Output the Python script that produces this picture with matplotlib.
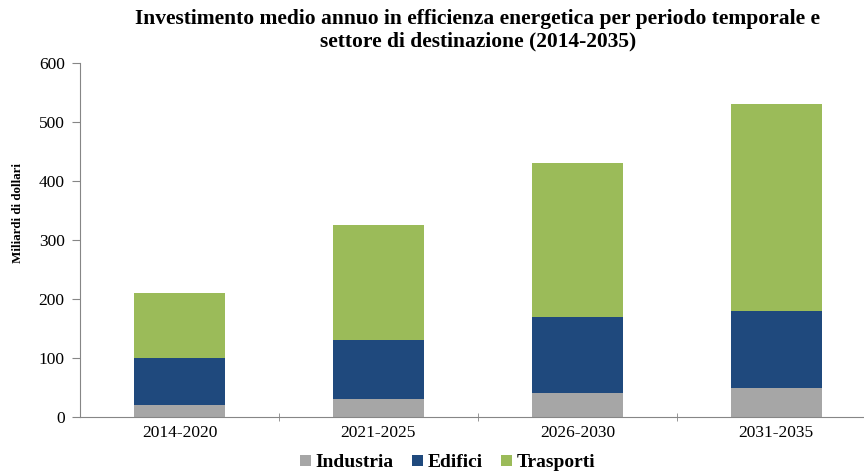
import matplotlib.pyplot as plt
import numpy as np

plt.rcParams['font.family'] = ['Liberation Serif', 'DejaVu Serif']

# data
periods = ['2014-2020', '2021-2025', '2026-2030', '2031-2035']
industria = [20, 30, 40, 50]
edifici = [80, 100, 130, 130]
trasporti = [110, 195, 260, 350]

fig = plt.figure(figsize=(8.64, 4.72), dpi=100)
ax = fig.add_axes([0.0926, 0.1165, 0.921, 0.75])

x = np.arange(len(periods))
w = 0.457
ax.bar(x, industria, w, color='#a6a6a6', label='Industria')
ax.bar(x, edifici, w, bottom=industria, color='#1f497d', label='Edifici')
bottom2 = np.array(industria) + np.array(edifici)
ax.bar(x, trasporti, w, bottom=bottom2, color='#9bbb59', label='Trasporti')

ax.set_xlim(-0.5, len(periods) - 0.5)
ax.set_ylim(0, 600)
ax.set_yticks(range(0, 601, 100))
ax.tick_params(axis='y', labelsize=12.5, color='#868686', length=6, pad=5)
ax.set_xticks(x)
ax.set_xticklabels(periods, fontsize=12.5)
ax.tick_params(axis='x', length=0, pad=6)
ax.set_xticks(np.arange(0.5, len(periods) - 0.5, 1), minor=True)
ax.tick_params(axis='x', which='minor', length=6, direction='inout', color='#868686')

for s in ['top', 'right']:
    ax.spines[s].set_visible(False)
for s in ['left', 'bottom']:
    ax.spines[s].set_color('#868686')

ax.set_ylabel('Miliardi di dollari', fontsize=9.4, fontweight='bold')
ax.yaxis.set_label_coords(-0.07, 0.575)
ax.set_title('Investimento medio annuo in efficienza energetica per periodo temporale e\n'
             'settore di destinazione (2014-2035)',
             fontsize=15.5, fontweight='bold', linespacing=1.15, pad=12, x=0.5)

fig.legend(loc='lower center', bbox_to_anchor=(0.518, -0.036), ncol=3, frameon=False,
           prop={'weight': 'bold', 'size': 14}, handlelength=0.55, handleheight=0.55,
           handletextpad=0.25, columnspacing=0.95)

fig.savefig('out.png', dpi=100)
